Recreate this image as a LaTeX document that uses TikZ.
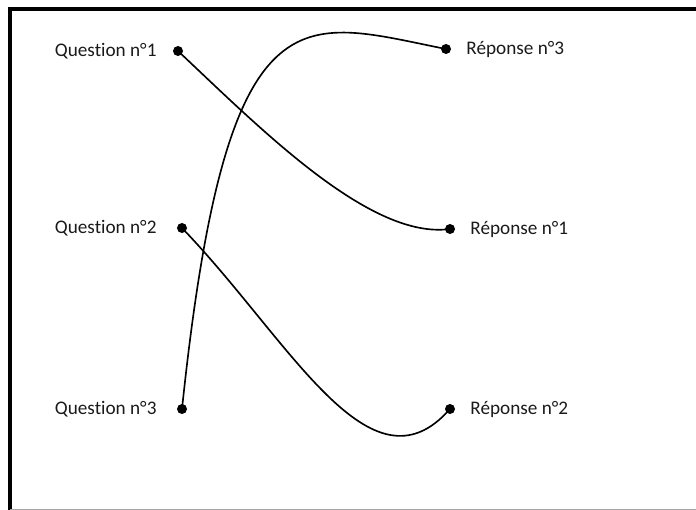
\documentclass[tikz,border=0pt]{standalone}
\usepackage{fontspec}
\setmainfont[Ligatures=NoCommon]{Carlito}
\usetikzlibrary{positioning}
\definecolor{ink}{HTML}{000000}
\definecolor{txt}{HTML}{1A1A1A}
\tikzset{
  dotnode/.style={circle, fill=ink, inner sep=0pt, minimum size=3mm},
  lbl/.style={inner sep=0pt, text=txt, font=\fontsize{16.4}{19}\selectfont},
  link/.style={line width=1.4pt, draw=ink},
  frame/.style={line width=2.6pt, draw=ink}
}
\begin{document}
\begin{tikzpicture}[x=0.03cm, y=-0.03cm]
  \useasboundingbox (0,0) rectangle (696,510);
  % outer frame (right side cut off)
  \draw[frame] (10,510) -- (10,9) -- (696,9);
  \draw[gray!70, line width=0.8pt] (10,509) -- (696,509);

  \node[dotnode] (q1) at (178,51) {};
  \node[dotnode] (q2) at (182,228) {};
  \node[dotnode] (q3) at (182,409) {};
  \node[dotnode] (r3) at (446,49) {};
  \node[dotnode] (r1) at (450,229) {};
  \node[dotnode] (r2) at (450,409) {};

  \node[lbl, left=0.48cm of q1] (tq1) {Question n°1};
  \node[lbl, left=0.60cm of q2] (tq2) {Question n°2};
  \node[lbl, left=0.60cm of q3] (tq3) {Question n°3};
  \node[lbl, right=0.45cm of r3] (tr3) {Réponse n°3};
  \node[lbl, right=0.45cm of r1] (tr1) {Réponse n°1};
  \node[lbl, right=0.45cm of r2] (tr2) {Réponse n°2};

  % matching lines
  \draw[link] (q1.center) .. controls +(82,77) and +(-80,11) .. (r1.center);
  \draw[link] (q2.center) .. controls +(108,112) and +(-80,91) .. (r2.center);
  \draw[link] (q3.center) .. controls +(45,-429) and +(-146,-29) .. (r3.center);
\end{tikzpicture}
\end{document}
